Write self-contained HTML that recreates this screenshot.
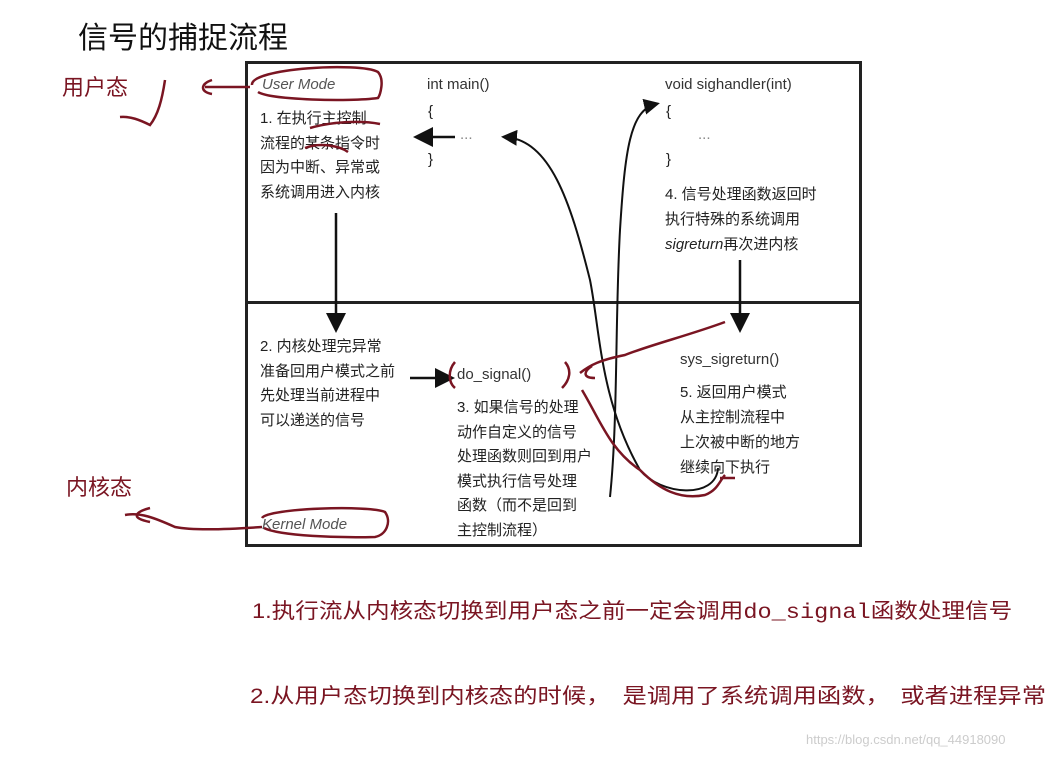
<!DOCTYPE html>
<html><head><meta charset="utf-8"><style>
body{margin:0;width:1057px;height:759px;background:#fff;position:relative;overflow:hidden;font-family:"Liberation Sans","Noto Sans CJK SC",sans-serif}
.t{position:absolute;white-space:nowrap;line-height:1}
.d{font-size:15px;color:#222}
.r{color:#7a1522}
.m{font-family:"Liberation Mono",monospace}
.b{position:absolute;white-space:nowrap;line-height:1;font-size:21px;color:#7a1522;transform:scaleX(1.157);transform-origin:0 0}
.b span{position:absolute;top:0}
</style></head><body>
<div class="t" style="left:78px;top:24px;font-size:30px;color:#111">信号的捕捉流程</div>
<div class="t r" style="left:62px;top:77px;font-size:22px">用户态</div>
<div class="t r" style="left:66px;top:477px;font-size:22px">内核态</div>

<div style="position:absolute;left:245px;top:61px;width:611px;height:480px;border:3px solid #222"></div>
<div style="position:absolute;left:245px;top:301px;width:617px;height:3px;background:#222"></div>

<div class="t d" style="left:262px;top:77px;font-style:italic;color:#555">User Mode</div>
<div class="t d" style="left:427px;top:77px;color:#333">int main()</div>
<div class="t d" style="left:428px;top:104px">{</div>
<div class="t d" style="left:460px;top:127px;color:#888">...</div>
<div class="t d" style="left:428px;top:152px">}</div>
<div class="t d" style="left:260px;top:107px;line-height:24.5px">1. 在执行主控制<br>流程的某条指令时<br>因为中断、异常或<br>系统调用进入内核</div>
<div class="t d" style="left:665px;top:77px;color:#333">void sighandler(int)</div>
<div class="t d" style="left:666px;top:104px">{</div>
<div class="t d" style="left:698px;top:127px;color:#888">...</div>
<div class="t d" style="left:666px;top:152px">}</div>
<div class="t d" style="left:665px;top:182px;line-height:25px">4. 信号处理函数返回时<br>执行特殊的系统调用<br><i>sigreturn</i>再次进内核</div>

<div class="t d" style="left:260px;top:335px;line-height:24.5px">2. 内核处理完异常<br>准备回用户模式之前<br>先处理当前进程中<br>可以递送的信号</div>
<div class="t d" style="left:457px;top:367px;color:#333">do_signal()</div>
<div class="t d" style="left:457px;top:396px;line-height:24.5px">3. 如果信号的处理<br>动作自定义的信号<br>处理函数则回到用户<br>模式执行信号处理<br>函数（而不是回到<br>主控制流程）</div>
<div class="t d" style="left:680px;top:352px;color:#333">sys_sigreturn()</div>
<div class="t d" style="left:680px;top:380px;line-height:25px">5. 返回用户模式<br>从主控制流程中<br>上次被中断的地方<br>继续向下执行</div>
<div class="t d" style="left:262px;top:517px;font-style:italic;color:#555">Kernel Mode</div>

<svg width="1057" height="759" style="position:absolute;left:0;top:0" fill="none">
<defs><marker id="a" markerWidth="8" markerHeight="8" refX="6" refY="4" orient="auto"><path d="M0,0 L8,4 L0,8 Z" fill="#111"/></marker></defs>
<g stroke="#111" stroke-width="2.5">
<path d="M336 213 V328" marker-end="url(#a)"/>
<path d="M740 260 V328" marker-end="url(#a)"/>
<path d="M455 137 H418" marker-end="url(#a)"/>
<path d="M410 378 H450" marker-end="url(#a)"/>
<path d="M610 497 C618 420 615 320 620 230 C625 150 630 110 656 104" marker-end="url(#a)" stroke-width="2"/>
<path d="M718 468 C716 500 660 495 640 470 C600 400 600 330 590 280 C570 200 550 140 505 137" marker-end="url(#a)" stroke-width="2"/>
</g>
<g stroke="#7a1522" stroke-width="2.5">
<path d="M252 85 C250 68 360 62 378 72 C385 80 380 95 378 98 C350 102 270 100 258 92"/>
<path d="M310 128 C330 122 360 120 380 124"/>
<path d="M305 148 C320 142 340 146 348 152"/>
<path d="M250 87 H205 M212 80 C200 84 200 92 212 94"/>
<path d="M165 80 C162 100 158 115 150 125 C140 120 130 116 120 117"/>
<path d="M262 518 C268 508 370 505 385 512 C392 522 386 535 375 537 C340 538 280 536 264 528"/>
<path d="M262 527 C220 530 190 530 175 527 C155 518 140 512 125 515 M150 508 C135 512 130 518 150 522"/>
<path d="M455 362 C448 370 448 382 455 388 M565 362 C572 370 570 380 562 388"/>
<path d="M725 322 C690 335 650 345 625 355 C600 360 590 365 580 373 M592 366 C583 372 583 378 595 378"/>
<path d="M582 390 C600 420 610 450 640 470 C660 490 680 500 705 495 C718 490 720 480 725 475 M720 478 C722 478 728 478 735 478"/>
</g>
</svg>

<div class="b" style="left:252px;top:601px;transform:scaleX(1.123)">1.执行流从内核态切换到用户态之前一定会调用<span class="m" style="position:static">do_signal</span>函数处理信号</div>
<div class="b" style="left:250px;top:686px;width:700px;height:22px">
<span style="left:0">2.从用户态切换到内核态的时候，</span>
<span style="left:322px">是调用了系统调用函数，</span>
<span style="left:562px">或者进程异常</span>
</div>
<div class="t" style="left:806px;top:733px;font-size:13px;color:#ccc">https://blog.csdn.net/qq_44918090</div>
</body></html>
